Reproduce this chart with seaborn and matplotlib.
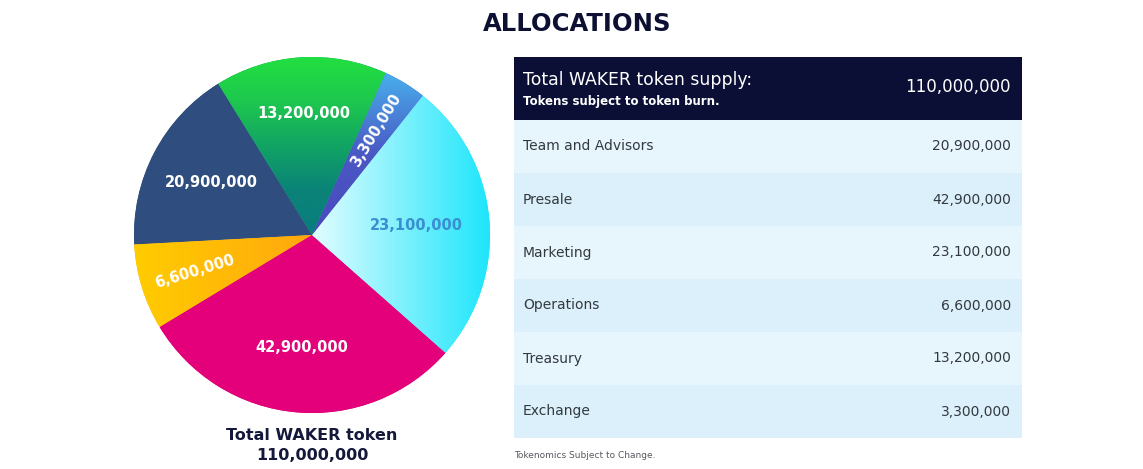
import numpy as np
import matplotlib
matplotlib.use("Agg")
import matplotlib.pyplot as plt
from matplotlib.patches import Rectangle
import seaborn as sns

# allocation table (order of the table rows)
categories = ["Team and Advisors", "Presale", "Marketing", "Operations", "Treasury", "Exchange"]
tokens = [20900000, 42900000, 23100000, 6600000, 13200000, 3300000]
total_supply = 110000000

# share of the circle each slice takes in the reference drawing (%),
# the drawn slices are not proportional to the token amounts
drawn_share = [17.0, 29.8, 25.8, 7.8, 15.6, 3.9]

# order the slices are drawn in, counter-clockwise
pie_order = ["Team and Advisors", "Operations", "Presale", "Marketing", "Exchange", "Treasury"]

sns.set_theme(style="white")
plt.rcParams["font.family"] = ["DejaVu Sans"]

NAVY = "#0b0f35"
TEXT = "#33393f"

# gradient colours + direction of each slice
fills = {
    "Team and Advisors": (["#2f4e7f", "#2f4e7f"], "x"),
    "Operations": (["#ffcc00", "#ffa80e"], "x"),
    "Presale": (["#e4007a", "#e4007a"], "x"),
    "Marketing": (["#e2fdff", "#1ce5fb"], "x"),
    "Exchange": (["#4a48bd", "#4a58c4", "#48b0ec"], "y"),
    "Treasury": (["#0a7d7e", "#0a8378", "#12a464", "#1ec84e", "#22e040"], "y"),
}
# label radius, colour, rotated along the slice?
label_style = {
    "Team and Advisors": (0.64, "white", False),
    "Operations": (0.69, "white", True),
    "Presale": (0.635, "white", False),
    "Marketing": (0.59, "#3a8ed2", False),
    "Exchange": (0.69, "white", True),
    "Treasury": (0.685, "white", False),
}

W, H = 1143, 469
fig = plt.figure(figsize=(W / 100, H / 100), dpi=100)
fig.patch.set_facecolor("white")

# ---- pie ----
ax = fig.add_axes([134 / W, 56 / H, 356 / W, 356 / H])
share = dict(zip(categories, drawn_share))
amount = dict(zip(categories, tokens))
vals = [share[c] for c in pie_order]
cols = [fills[c][0][len(fills[c][0]) // 2] for c in pie_order]
wedges, _ = ax.pie(vals, startangle=121.8, counterclock=True, colors=cols,
                   radius=1, wedgeprops=dict(linewidth=0))

for w, c in zip(wedges, pie_order):
    colors, direction = fills[c]
    cmap = sns.blend_palette(colors, as_cmap=True)
    v = w.get_path().vertices
    x0, x1 = v[:, 0].min(), v[:, 0].max()
    y0, y1 = v[:, 1].min(), v[:, 1].max()
    g = np.linspace(0, 1, 256)
    grad = np.tile(g, (256, 1)) if direction == "x" else np.tile(g[:, None], (1, 256))
    im = ax.imshow(grad, extent=(x0, x1, y0, y1), origin="lower", cmap=cmap,
                   aspect="auto", interpolation="bilinear", zorder=2)
    im.set_clip_path(w)

    r, tc, rot = label_style[c]
    th = ((w.theta1 + w.theta2) / 2) % 360
    tx, ty = r * np.cos(np.radians(th)), r * np.sin(np.radians(th))
    angle = 0
    if rot:
        angle = th if th < 90 else th - 180
    ax.text(tx, ty, f"{amount[c]:,}", ha="center", va="center", color=tc,
            fontsize=10.5, fontweight="bold", rotation=angle,
            rotation_mode="anchor", zorder=5)

ax.set_xlim(-1, 1)
ax.set_ylim(-1, 1)
ax.set_aspect("equal")
ax.axis("off")

# ---- text + table in pixel coordinates ----
ov = fig.add_axes([0, 0, 1, 1])
ov.set_xlim(0, W)
ov.set_ylim(H, 0)
ov.axis("off")
ov.patch.set_alpha(0)

ov.text(577, 24, "ALLOCATIONS", ha="center", va="center", fontsize=17.5,
        fontweight="heavy", color="#0d1033")
ov.text(312, 436, "Total WAKER token", ha="center", va="center", fontsize=11.5,
        fontweight="bold", color="#14183a")
ov.text(312, 456, f"{total_supply:,}", ha="center", va="center", fontsize=11.5,
        fontweight="bold", color="#14183a")

tx0, tx1 = 514, 1022
ov.add_patch(Rectangle((tx0, 57), tx1 - tx0, 63, color=NAVY, lw=0))
ov.text(523, 80, "Total WAKER token supply:", ha="left", va="center",
        fontsize=12.4, color="white")
ov.text(523, 101, "Tokens subject to token burn.", ha="left", va="center",
        fontsize=8.5, fontweight="semibold", color="white")
ov.text(1011, 87, f"{total_supply:,}", ha="right", va="center",
        fontsize=12, color="white")

row_h = 53
for i, (c, t) in enumerate(zip(categories, tokens)):
    y = 120 + i * row_h
    ov.add_patch(Rectangle((tx0, y), tx1 - tx0, row_h,
                           color="#e7f6fd" if i % 2 == 0 else "#dbf0fb", lw=0))
    ov.text(523, y + row_h / 2, c, ha="left", va="center", fontsize=10, color=TEXT)
    ov.text(1011, y + row_h / 2, f"{t:,}", ha="right", va="center", fontsize=10, color=TEXT)

ov.text(514, 455, "Tokenomics Subject to Change.", ha="left", va="center",
        fontsize=6.5, color="#555a60")

fig.savefig("out.png", dpi=100, facecolor="white")
